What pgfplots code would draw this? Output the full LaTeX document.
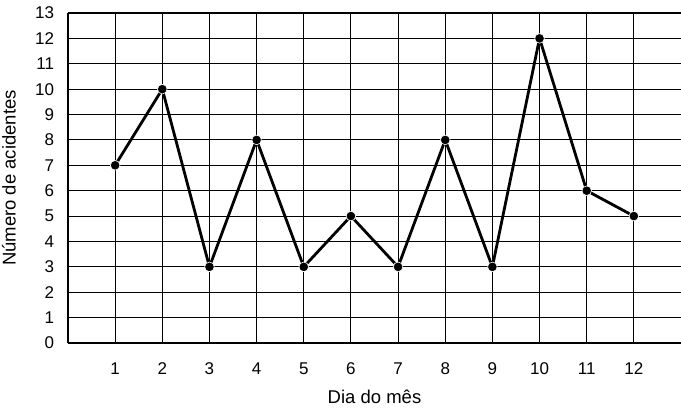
\documentclass[border=0pt]{standalone}
\usepackage{fontspec}
\setmainfont{Liberation Sans}
\usepackage{pgfplots}
\pgfplotsset{compat=1.18}
\begin{document}
\fontsize{17}{20}\selectfont
\begin{tikzpicture}
\begin{axis}[
    scale only axis,
    width=613pt, height=330pt,
    xmin=0, xmax=13, ymin=0, ymax=13,
    axis x line*=bottom, axis y line*=left,
    axis line style={line width=1.3pt, -},
    xtick={1,...,12}, ytick={0,...,13},
    major tick length=0pt,
    grid=major,
    major grid style={black, line width=1.1pt},
    xticklabel style={yshift=-14pt},
    yticklabel style={xshift=-8pt},
    xlabel={Dia do mês}, ylabel={Número de acidentes},
    label style={font=\fontsize{18.5}{22}\selectfont},
    xlabel style={yshift=-4pt},
    ylabel style={yshift=8pt},
    /pgf/number format/assume math mode=true,
    clip=false,
]
\addplot[black, line width=2.8pt, mark=*, mark size=4.8pt,
         mark options={line width=0.6pt, draw=white, fill=black}]
coordinates {(1,7) (2,10) (3,3) (4,8) (5,3) (6,5) (7,3) (8,8) (9,3) (10,12) (11,6) (12,5)};
\end{axis}
\pgfresetboundingbox
\path[use as bounding box] (-68pt,-67pt) rectangle (613pt,343pt);
\end{tikzpicture}
\end{document}
